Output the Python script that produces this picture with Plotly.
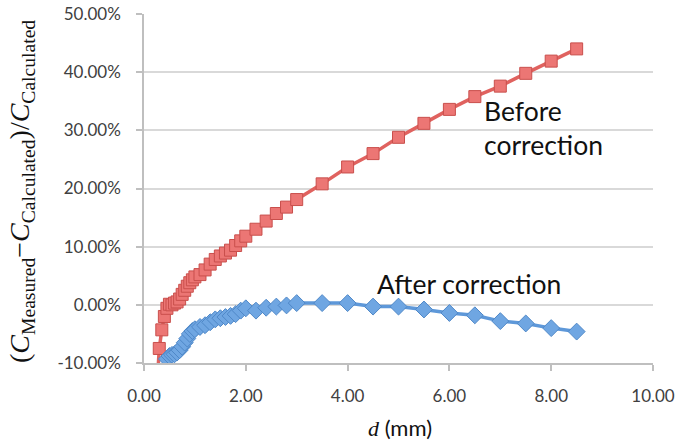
import plotly.graph_objects as go

# Before correction (red squares): d in mm, relative deviation in %
before_d = [0.27, 0.30, 0.35, 0.40, 0.45, 0.50, 0.55, 0.60, 0.65, 0.70, 0.75, 0.80,
            0.85, 0.90, 0.95, 1.00, 1.10, 1.20, 1.30, 1.40, 1.50, 1.60, 1.70, 1.80,
            1.90, 2.00, 2.20, 2.40, 2.60, 2.80, 3.00, 3.50, 4.00, 4.50, 5.00, 5.50,
            6.00, 6.50, 7.00, 7.50, 8.00, 8.50]
before_pct = [-12.0, -7.5, -4.3, -2.0, -0.6, 0.1, 0.0, 0.3, 0.5, 1.0, 1.8, 2.5,
              3.2, 3.8, 4.3, 4.8, 5.2, 6.0, 7.0, 7.8, 8.4, 8.9, 9.4, 10.2,
              11.0, 11.8, 13.0, 14.4, 15.7, 16.8, 18.1, 20.8, 23.7, 26.0, 28.8, 31.2,
              33.6, 35.8, 37.6, 39.8, 41.9, 44.0]

# After correction (blue diamonds)
after_d = [0.40, 0.45, 0.50, 0.55, 0.60, 0.65, 0.70, 0.75, 0.80, 0.85, 0.90, 0.95,
           1.00, 1.10, 1.20, 1.30, 1.40, 1.50, 1.60, 1.70, 1.80, 1.90, 2.00, 2.20,
           2.40, 2.60, 2.80, 3.00, 3.50, 4.00, 4.50, 5.00, 5.50, 6.00, 6.50, 7.00,
           7.50, 8.00, 8.50]
after_pct = [-11.5, -9.3, -8.8, -8.6, -8.5, -8.2, -7.8, -7.2, -6.5, -5.8, -5.0, -4.5,
             -4.2, -3.8, -3.5, -3.0, -2.5, -2.3, -2.1, -1.9, -1.6, -1.0, -0.6, -1.0,
             -0.5, -0.3, -0.1, 0.3, 0.3, 0.3, -0.3, -0.3, -0.8, -1.4, -1.8, -2.8,
             -3.2, -4.0, -4.6]

y_tickvals = [-10, 0, 10, 20, 30, 40, 50]
y_ticktext = ["-10.00%", "0.00%", "10.00%", "20.00%", "30.00%", "40.00%", "50.00%"]
x_tickvals = [0, 2, 4, 6, 8, 10]
x_ticktext = ["0.00", "2.00", "4.00", "6.00", "8.00", "10.00"]

fig = go.Figure()
fig.add_trace(go.Scatter(
    x=before_d, y=before_pct, mode="lines+markers", name="Before correction",
    line=dict(color="#E0625F", width=3.5),
    marker=dict(symbol="square", size=12, color="#EC7674",
                line=dict(color="#C94F4C", width=1)),
))
fig.add_trace(go.Scatter(
    x=after_d, y=after_pct, mode="lines+markers", name="After correction",
    line=dict(color="#5E98D9", width=3.5),
    marker=dict(symbol="diamond", size=13, color="#6FA6E2",
                line=dict(color="#4F88C8", width=1)),
))

tickfont = dict(family="Lato", size=17, color="#404040")
fig.update_xaxes(range=[0, 10], tickvals=x_tickvals, ticktext=x_ticktext,
                 automargin=False, showgrid=False, zeroline=False, showline=True,
                 linecolor="#BFBFBF", linewidth=1.5, ticks="outside",
                 ticklen=6, tickcolor="#BFBFBF", tickwidth=1.5, tickfont=tickfont,
                 ticklabelstandoff=11, ticklabeloverflow="allow")
fig.update_yaxes(range=[-10, 50], tickvals=y_tickvals, ticktext=y_ticktext,
                 automargin=False, showgrid=True, gridcolor="#D9D9D9", gridwidth=1.5,
                 zeroline=False, showline=True, linecolor="#BFBFBF", linewidth=1.5,
                 ticks="outside", ticklen=6, tickcolor="#BFBFBF", tickwidth=1.5,
                 tickfont=tickfont, ticklabelstandoff=12, ticklabeloverflow="allow")

fig.add_annotation(x=6.65, y=30.4, xref="x", yref="y", xanchor="left", yanchor="middle",
                   text="Before<br>correction", align="left", showarrow=False,
                   font=dict(family="Lato", size=26.5, color="#111111"))
fig.add_annotation(x=4.53, y=3.6, xref="x", yref="y", xanchor="left", yanchor="middle",
                   text="After correction", align="left", showarrow=False,
                   font=dict(family="Lato", size=26.5, color="#111111"))

# Axis titles
fig.add_annotation(x=(22 - 144) / 509, y=0.49, xref="paper", yref="paper",
                   xanchor="center", yanchor="middle", textangle=-90, showarrow=False,
                   text="(<i>C</i><sub>Measured</sub>\u2212<i>C</i><sub>Calculated</sub>)/<i>C</i><sub>Calculated</sub>",
                   font=dict(family="Liberation Serif", size=28, color="#111111"))
fig.add_annotation(x=(400 - 144) / 509, y=-(427 - 363) / 349, xref="paper", yref="paper",
                   xanchor="center", yanchor="middle", showarrow=False,
                   text="<span style=\"font-family:'Liberation Serif'\"><i>d</i></span> (mm)",
                   font=dict(family="Lato", size=22, color="#111111"))

fig.update_layout(width=680, height=443, showlegend=False,
                  margin=dict(l=144, r=27, t=14, b=80),
                  plot_bgcolor="white", paper_bgcolor="white")

# remove the default 8px page margin so the figure fills the window exactly
fig.write_html("out.html", config={"displayModeBar": False},
               post_script="document.body.style.margin='0';")
